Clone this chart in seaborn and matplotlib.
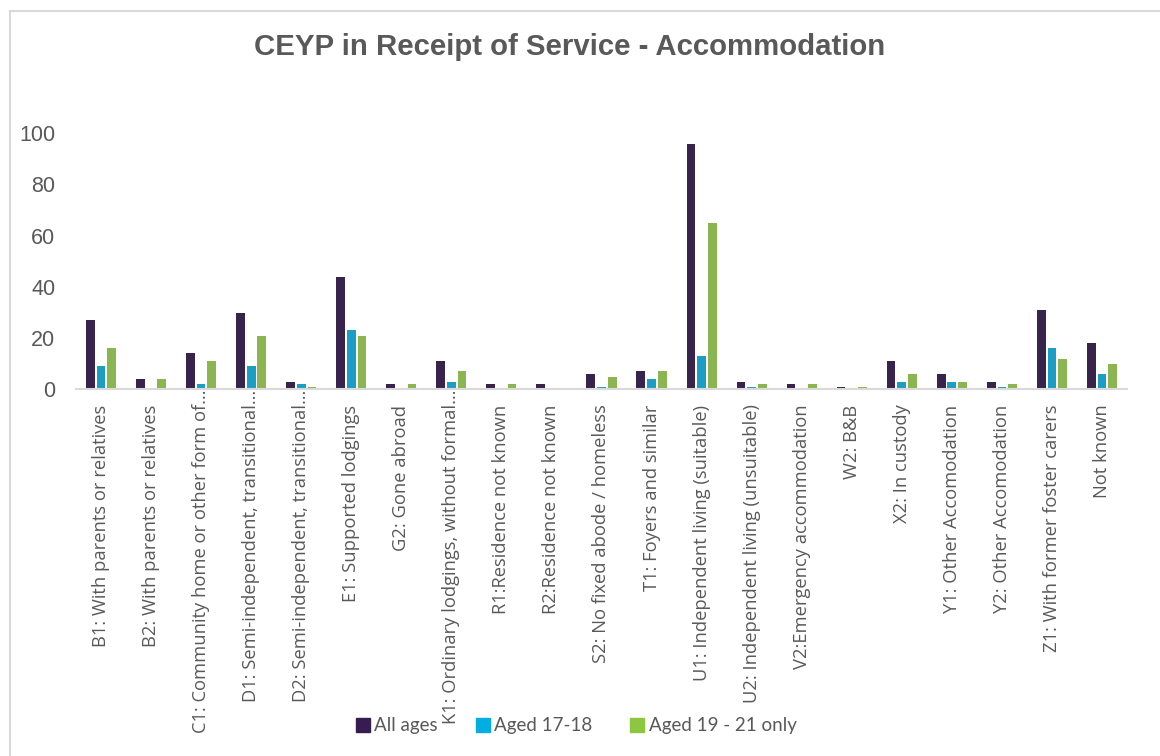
import matplotlib
matplotlib.use("Agg")
import matplotlib.pyplot as plt
import matplotlib.transforms as mtransforms
import seaborn as sns
import pandas as pd
from matplotlib.lines import Line2D

categories = [
    "B1: With parents or relatives",
    "B2: With parents or relatives",
    "C1: Community home or other form of…",
    "D1: Semi-independent, transitional…",
    "D2: Semi-independent, transitional…",
    "E1: Supported lodgings",
    "G2: Gone abroad",
    "K1: Ordinary lodgings, without formal…",
    "R1:Residence not known",
    "R2:Residence not known",
    "S2: No fixed abode / homeless",
    "T1: Foyers and similar",
    "U1: Independent living (suitable)",
    "U2: Independent living (unsuitable)",
    "V2:Emergency accommodation",
    "W2: B&B",
    "X2: In custody",
    "Y1: Other Accomodation",
    "Y2: Other Accomodation",
    "Z1: With former foster carers",
    "Not known",
]
all_ages = [27, 4, 14, 30, 3, 44, 2, 11, 2, 2, 6, 7, 96, 3, 2, 1, 11, 6, 3, 31, 18]
aged_17_18 = [9, 0, 2, 9, 2, 23, 0, 3, 0, 0, 1, 4, 13, 1, 0, 0, 3, 3, 1, 16, 6]
aged_19_21 = [16, 4, 11, 21, 1, 21, 2, 7, 2, 0, 5, 7, 65, 2, 2, 1, 6, 3, 2, 12, 10]
series_names = ["All ages", "Aged 17-18", "Aged 19 - 21 only"]
colors = ["#371C52", "#00AEE0", "#8DC63F"]

rows = []
for name, vals in zip(series_names, [all_ages, aged_17_18, aged_19_21]):
    for c, v in zip(categories, vals):
        rows.append({"category": c, "series": name, "value": v})
df = pd.DataFrame(rows)

sns.set_theme(style="white")
plt.rcParams["font.family"] = ["Liberation Sans", "DejaVu Sans"]
TXT = "#595959"

W, H = 1160, 756
fig = plt.figure(figsize=(W / 100, H / 100), dpi=100)
ax = fig.add_axes([76 / W, 1 - 389.3 / H, (1127 - 76) / W, (389.3 - 133.3) / H])

sns.barplot(data=df, x="category", y="value", hue="series", order=categories,
            hue_order=series_names, palette=colors, width=0.64, gap=0.18,
            edgecolor="none", linewidth=0, ax=ax, legend=False)

ax.set_ylim(0, 100)
ax.set_xlim(-0.5, len(categories) - 0.5)
ax.set_yticks([0, 20, 40, 60, 80, 100])
ax.set_xlabel("")
ax.set_ylabel("")
for s in ["top", "right", "left"]:
    ax.spines[s].set_visible(False)
ax.spines["bottom"].set_color("#d9d9d9")
ax.spines["bottom"].set_linewidth(1.5)
ax.tick_params(axis="y", length=0, pad=15, labelsize=15.5, labelcolor=TXT)
ax.tick_params(axis="x", length=0, pad=11)
ax.set_xticks(range(len(categories)))
labels = ax.set_xticklabels(categories, rotation=90, fontsize=13.2, color=TXT,
                            family=["Open Sans", "DejaVu Sans"], va="top", ha="center")
# truncated (overflowing) labels start right at the axis line
for lab in labels:
    if lab.get_text().endswith("…"):
        lab.set_transform(lab.get_transform() +
                          mtransforms.ScaledTranslation(0, 15 / 100, fig.dpi_scale_trans))

fig.text(570 / W, 1 - 47 / H, "CEYP in Receipt of Service - Accommodation",
         ha="center", va="center", fontsize=21.2, fontweight="bold", color=TXT)

handles = [Line2D([], [], marker="s", linestyle="none", markersize=10.5,
                  markerfacecolor=c, markeredgecolor=c) for c in colors]
leg = fig.legend(handles, series_names, loc="center",
                 bbox_to_anchor=(576 / W, 1 - 726 / H), ncol=3, frameon=False,
                 handlelength=0.8, handletextpad=0.2, columnspacing=2.0,
                 prop={"family": ["Lato", "DejaVu Sans"], "size": 13.5})
for t in leg.get_texts():
    t.set_color(TXT)

# chart border
fig.add_artist(Line2D([10 / W, 1], [1 - 10.5 / H, 1 - 10.5 / H], color="#d9d9d9", lw=1.5))
fig.add_artist(Line2D([10 / W, 10 / W], [0, 1 - 10.5 / H], color="#d9d9d9", lw=1.5))

fig.savefig("out.png", dpi=100)
